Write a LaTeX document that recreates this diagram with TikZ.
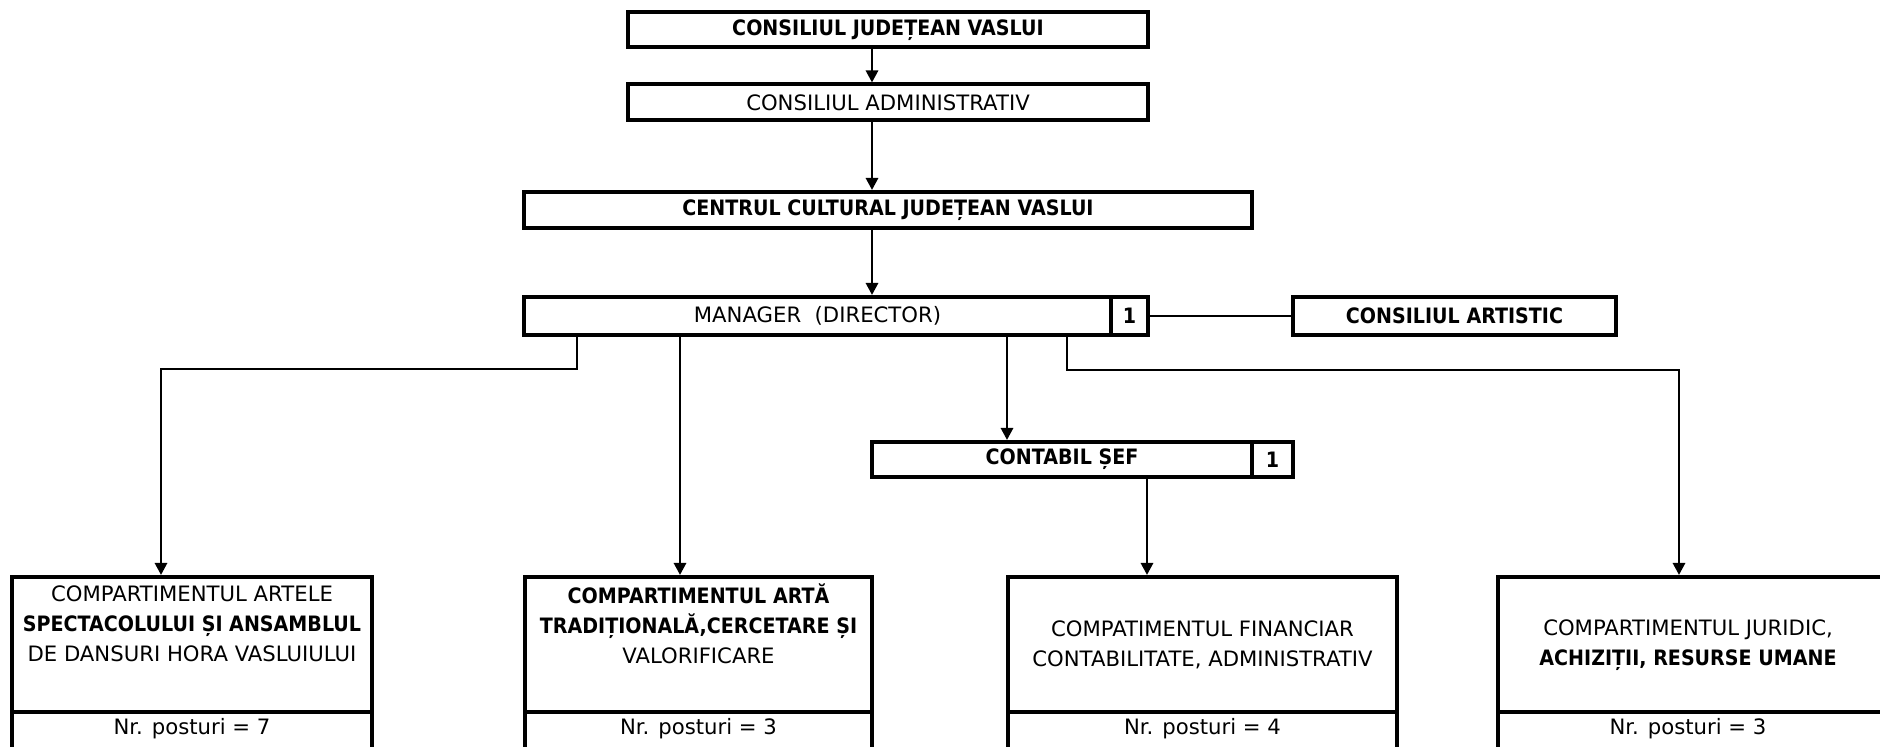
\documentclass[tikz,border=0pt]{standalone}
\usepackage{fontspec}
\setmainfont{DejaVu Sans}[BoldFeatures={FakeStretch=0.9}]
\usetikzlibrary{arrows.meta}
\begin{document}
\begin{tikzpicture}[x=0.5pt,y=-0.5pt,
    box/.style={draw,line width=2pt,inner sep=0pt,font=\fontsize{10.6}{15}\selectfont},
    txt/.style={inner sep=0pt,align=center,font=\fontsize{10.6}{15}\selectfont},
    conn/.style={line width=1.4pt},
    arr/.style={conn,-{Triangle[width=6pt,length=6pt]}}]
  \useasboundingbox (0,0) rectangle (1880,747);
  \clip (0,0) rectangle (1880,747);
  % top of the chart
  \node[box,minimum width=260pt,minimum height=17.5pt] (cjv) at (888,30) {\bfseries CONSILIUL JUDEȚEAN VASLUI};
  \node[box,minimum width=260pt,minimum height=18pt] (cadm) at (888,102.5) {CONSILIUL ADMINISTRATIV};
  \node[box,minimum width=364pt,minimum height=18pt] (ccjv) at (888,210) {\bfseries CENTRUL CULTURAL JUDEȚEAN VASLUI};
  \node[box,minimum width=293.5pt,minimum height=19pt] (mgr) at (817.5,316) {MANAGER\ \ (DIRECTOR)};
  \node[box,minimum width=18.5pt,minimum height=19pt] (mgrn) at (1129.5,316) {\bfseries 1};
  \node[box,minimum width=161.5pt,minimum height=19pt] (art) at (1454.5,316) {\bfseries CONSILIUL ARTISTIC};
  \node[box,minimum width=190pt,minimum height=17.5pt] (sef) at (1062,459.5) {\bfseries CONTABIL ȘEF};
  \node[box,minimum width=20.5pt,minimum height=17.5pt] (sefn) at (1272.5,459.5) {\bfseries 1};
  % compartments
  \node[box,minimum width=180pt,minimum height=67.5pt] (spec) at (192,644.5) {};
  \node[box,minimum width=180pt,minimum height=29pt] (specn) at (192,741) {};
  \node[txt] (spect) at (192,624) {COMPARTIMENTUL ARTELE\\\textbf{SPECTACOLULUI ȘI ANSAMBLUL}\\DE DANSURI HORA VASLUIULUI};
  \node[txt] (specp) at (192,729) {Nr. posturi = 7};
  \node[box,minimum width=173.5pt,minimum height=67.5pt] (trad) at (698.5,644.5) {};
  \node[box,minimum width=173.5pt,minimum height=29pt] (tradn) at (698.5,741) {};
  \node[txt] (tradt) at (698.5,624) {\textbf{COMPARTIMENTUL ARTĂ}\\\textbf{TRADIȚIONALĂ,CERCETARE ȘI}\\VALORIFICARE};
  \node[txt] (tradp) at (698.5,729) {Nr. posturi = 3};
  \node[box,minimum width=194.5pt,minimum height=67.5pt] (fin) at (1202.5,644.5) {};
  \node[box,minimum width=194.5pt,minimum height=29pt] (finn) at (1202.5,741) {};
  \node[txt] (fint) at (1202.5,645) {COMPATIMENTUL FINANCIAR\\CONTABILITATE, ADMINISTRATIV};
  \node[txt] (finp) at (1202.5,729) {Nr. posturi = 4};
  \node[box,minimum width=201pt,minimum height=67.5pt] (jur) at (1699,644.5) {};
  \node[box,minimum width=201pt,minimum height=29pt] (jurn) at (1699,741) {};
  \node[txt] (jurt) at (1688,645) {COMPARTIMENTUL JURIDIC,\\\textbf{ACHIZIȚII, RESURSE UMANE}};
  \node[txt] (jurp) at (1688,729) {Nr. posturi = 3};
  % connectors
  \coordinate (spine) at (872,0);
  \coordinate (ja) at (577,369);
  \coordinate (jb) at (161,369);
  \coordinate (jc) at (680,0);
  \coordinate (jd) at (1007,0);
  \coordinate (je) at (1147,0);
  \coordinate (jf) at (1067,370);
  \coordinate (jg) at (1679,370);
  \draw[arr] (cjv.south -| spine) -- (cadm.north -| spine);
  \draw[arr] (cadm.south -| spine) -- (ccjv.north -| spine);
  \draw[arr] (ccjv.south -| spine) -- (mgr.north -| spine);
  \draw[conn] (mgrn.east) -- (art.west);
  \draw[arr] (mgr.south -| ja) -- (ja) -- (jb) -- (spec.north -| jb);
  \draw[arr] (mgr.south -| jc) -- (trad.north -| jc);
  \draw[arr] (mgr.south -| jd) -- (sef.north -| jd);
  \draw[arr] (sef.south -| je) -- (fin.north -| je);
  \draw[arr] (mgr.south -| jf) -- (jf) -- (jg) -- (jur.north -| jg);
\end{tikzpicture}
\end{document}
